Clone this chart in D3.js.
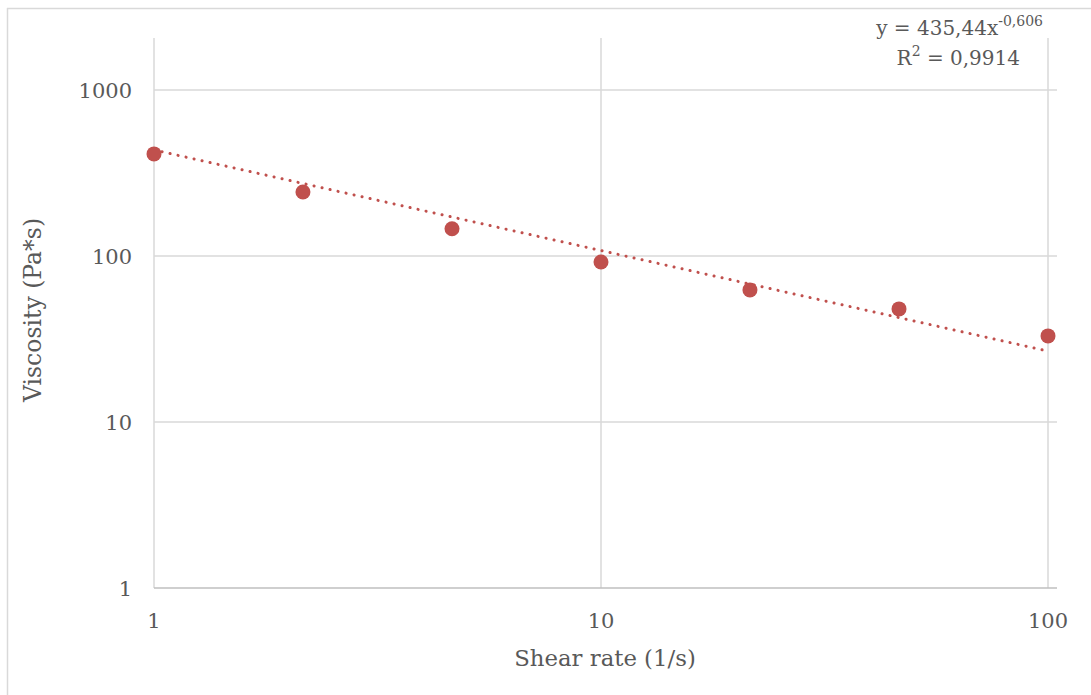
<!DOCTYPE html>
<html>
<head>
<meta charset="utf-8">
<script src="https://cdn.jsdelivr.net/npm/d3@7"></script>
<style>
  body { margin: 0; background: #fff; }
  svg text { font-family: "DejaVu Serif", "Liberation Serif", serif; fill: #595959; }
</style>
</head>
<body>
<div id="root"></div>
<script>
// data
const shearRate = [1, 2.154, 4.642, 10, 21.54, 46.42, 100];
const viscosity = [412, 243, 146, 92, 62.5, 48, 33];
const xTicks = [1, 10, 100];
const yTicks = [1, 10, 100, 1000];
const fitA = 435.44;
const fitB = -0.606;

const w = 1091;
const h = 695;
const color = "#C0504D";
const grid = "#d9d9d9";

const svg = d3.select("#root")
  .append("svg")
  .attr("width", w)
  .attr("height", h);

// chart border (only left and top show)
svg.append("line").attr("x1", 7.5).attr("x2", 7.5).attr("y1", 8).attr("y2", h).attr("stroke", grid).attr("stroke-width", 1.5);
svg.append("line").attr("x1", 7).attr("x2", w).attr("y1", 8.5).attr("y2", 8.5).attr("stroke", grid).attr("stroke-width", 1.5);

const x = d3.scaleLog().domain([1, 100]).range([154, 1048]);
const y = d3.scaleLog().domain([1, 1000]).range([588, 90]);
const plotTop = 38;
const plotRight = 1057;

// gridlines
svg.selectAll(".hgrid")
  .data(yTicks.slice(1))
  .enter()
  .append("line")
  .attr("x1", x(1)).attr("x2", plotRight)
  .attr("y1", d => y(d)).attr("y2", d => y(d))
  .attr("stroke", grid).attr("stroke-width", 1.5);

svg.selectAll(".vgrid")
  .data(xTicks)
  .enter()
  .append("line")
  .attr("x1", d => x(d)).attr("x2", d => x(d))
  .attr("y1", plotTop).attr("y2", y(1))
  .attr("stroke", grid).attr("stroke-width", 1.5);

// x axis line
svg.append("line")
  .attr("x1", x(1)).attr("x2", plotRight)
  .attr("y1", y(1)).attr("y2", y(1))
  .attr("stroke", "#bfbfbf").attr("stroke-width", 1.5);

// tick labels
svg.selectAll(".xlab")
  .data(xTicks)
  .enter()
  .append("text")
  .attr("x", d => x(d))
  .attr("y", 628)
  .attr("text-anchor", "middle")
  .style("font-size", "21px")
  .text(d => d);

svg.selectAll(".ylab")
  .data(yTicks)
  .enter()
  .append("text")
  .attr("x", 132)
  .attr("y", d => y(d) + 8)
  .attr("text-anchor", "end")
  .style("font-size", "21px")
  .text(d => d);

// axis titles
svg.append("text")
  .attr("x", 605)
  .attr("y", 666)
  .attr("text-anchor", "middle")
  .style("font-size", "22.8px")
  .text("Shear rate (1/s)");

svg.append("text")
  .attr("transform", `translate(41, 310) rotate(-90)`)
  .attr("text-anchor", "middle")
  .style("font-size", "23.5px")
  .text("Viscosity (Pa*s)");

// power trendline
const fitX = d3.range(0, 201).map(i => Math.pow(10, i / 100));
const line = d3.line().x(d => x(d)).y(d => y(fitA * Math.pow(d, fitB)));
svg.append("path")
  .datum(fitX)
  .attr("d", line)
  .attr("fill", "none")
  .attr("stroke", color)
  .attr("stroke-width", 3)
  .attr("stroke-linecap", "round")
  .attr("stroke-dasharray", "0.1 8.1");

// points
svg.selectAll(".pt")
  .data(shearRate)
  .enter()
  .append("circle")
  .attr("cx", d => x(d))
  .attr("cy", (d, i) => y(viscosity[i]))
  .attr("r", 7.5)
  .attr("fill", color);

// equation label
const eq = svg.append("text")
  .attr("x", 1043)
  .attr("y", 35)
  .attr("text-anchor", "end")
  .style("font-size", "20px");
eq.append("tspan").text("y = 435,44x");
eq.append("tspan").attr("dy", -9).style("font-size", "14px").text("-0,606");

const r2 = svg.append("text")
  .attr("x", 1020)
  .attr("y", 65)
  .attr("text-anchor", "end")
  .style("font-size", "20px");
r2.append("tspan").text("R");
r2.append("tspan").attr("dy", -9).style("font-size", "14px").text("2");
r2.append("tspan").attr("dy", 9).text(" = 0,9914");
</script>
</body>
</html>
